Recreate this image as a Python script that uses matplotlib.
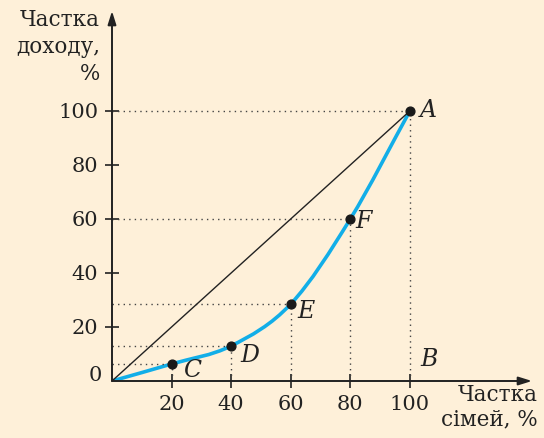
import numpy as np
import matplotlib as mpl
import matplotlib.pyplot as plt
from matplotlib.path import Path
from matplotlib.patches import PathPatch

mpl.use('agg')

# data
families = [0, 20, 40, 60, 80, 100]      # share of families, %
income = [0, 6.3, 13, 28.5, 60, 100]     # share of income, %
point_names = ['C', 'D', 'E', 'F', 'A']
name_offsets = [(3.8, -2.5), (3.2, -3.4), (2.3, -2.7), (1.6, -1), (3.2, 0)]
xticks = [20, 40, 60, 80, 100]
yticks = [20, 40, 60, 80, 100]

bg = '#fef0d9'
blue = '#12aee8'
ink = '#222222'
plt.rcParams['font.family'] = ['DejaVu Serif']

fig = plt.figure(figsize=(5.44, 4.38), dpi=100, facecolor=bg)
ax = fig.add_axes([112 / 544, 57 / 438, 420 / 544, 370 / 438])
ax.set_facecolor(bg)
ax.set_xlim(0, 141)
ax.set_ylim(0, 137)
for s in ax.spines.values():
    s.set_visible(False)

# axes with arrows
for end in [(141, 0), (0, 137)]:
    ax.annotate('', xy=end, xytext=(0, 0), annotation_clip=False,
                arrowprops=dict(arrowstyle='-|>,head_length=0.8,head_width=0.25',
                                color=ink, lw=1.4, shrinkA=0, shrinkB=0))

ax.set_xticks(xticks)
ax.set_yticks(yticks)
ax.tick_params(direction='inout', length=10, width=1.2, color=ink,
               labelsize=15, labelcolor=ink, pad=5)
ax.text(-3.5, 2, '0', ha='right', va='center', fontsize=15, color=ink)

# dotted guide lines
for x, y in zip(families[1:], income[1:]):
    ax.plot([0, x], [y, y], ls=(0, (1, 3)), color='#444444', lw=1)
    ax.plot([x, x], [0, y], ls=(0, (1, 3)), color='#444444', lw=1)

# line of equality
ax.plot([0, 100], [0, 100], color=ink, lw=1)

# smooth Lorenz curve (Catmull-Rom as Bezier segments)
pts = np.column_stack([families, income]).astype(float)
n = len(pts)
tang = np.zeros_like(pts)
for i in range(n):
    a = pts[max(i - 1, 0)]
    b = pts[min(i + 1, n - 1)]
    tang[i] = (b - a) / (2 if 0 < i < n - 1 else 1)
verts = [pts[0]]
codes = [Path.MOVETO]
for i in range(n - 1):
    verts += [pts[i] + tang[i] / 3, pts[i + 1] - tang[i + 1] / 3, pts[i + 1]]
    codes += [Path.CURVE4] * 3
ax.add_patch(PathPatch(Path(verts, codes), fill=False, edgecolor=blue, lw=2.6))

ax.scatter(families[1:], income[1:], s=40, color='#1a1a1a', zorder=5)
for x, y, name, off in zip(families[1:], income[1:], point_names, name_offsets):
    ax.text(x + off[0], y + off[1], name, fontsize=17, style='italic',
            va='center', ha='left', color=ink)
ax.text(103.5, 8, 'B', fontsize=17, style='italic', va='center', ha='left',
        color=ink)

fig.text(100 / 544, 1 - 9 / 438, 'Частка\nдоходу,\n%', ha='right', va='top',
         fontsize=15.5, color=ink, linespacing=1.3)
fig.text(538 / 544, 1 - 384 / 438, 'Частка\nсімей, %', ha='right', va='top',
         fontsize=15.5, color=ink, linespacing=1.15)

fig.savefig('out.png', dpi=100, facecolor=bg)
